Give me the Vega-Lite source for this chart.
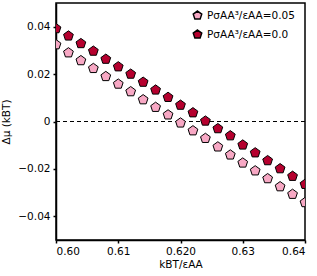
{
  "$schema": "https://vega.github.io/schema/vega-lite/v6.json",
  "autosize": "none",
  "width": 249,
  "height": 237,
  "padding": {"left": 56, "top": 3, "right": 12, "bottom": 36},
  "config": {
    "font": "DejaVu Sans",
    "view": {"stroke": "black", "strokeWidth": 1.5},
    "axis": {"labelFont": "DejaVu Sans", "titleFont": "DejaVu Sans", "labelFontSize": 10.5, "titleFontSize": 10.5, "labelColor": "black", "titleColor": "black", "titleFontWeight": "normal", "domainColor": "black", "domainWidth": 1.5, "tickColor": "black", "tickWidth": 1.5, "tickSize": 3, "grid": false}
  },
  "datasets": {
    "pts": [
      {"T": 0.600, "dmu": 0.0324, "P": "PσAA³/εAA=0.05"},
      {"T": 0.602, "dmu": 0.0290, "P": "PσAA³/εAA=0.05"},
      {"T": 0.604, "dmu": 0.0257, "P": "PσAA³/εAA=0.05"},
      {"T": 0.606, "dmu": 0.0224, "P": "PσAA³/εAA=0.05"},
      {"T": 0.608, "dmu": 0.0190, "P": "PσAA³/εAA=0.05"},
      {"T": 0.610, "dmu": 0.0158, "P": "PσAA³/εAA=0.05"},
      {"T": 0.612, "dmu": 0.0126, "P": "PσAA³/εAA=0.05"},
      {"T": 0.614, "dmu": 0.0092, "P": "PσAA³/εAA=0.05"},
      {"T": 0.616, "dmu": 0.0060, "P": "PσAA³/εAA=0.05"},
      {"T": 0.618, "dmu": 0.0028, "P": "PσAA³/εAA=0.05"},
      {"T": 0.620, "dmu": -0.0006, "P": "PσAA³/εAA=0.05"},
      {"T": 0.622, "dmu": -0.0039, "P": "PσAA³/εAA=0.05"},
      {"T": 0.624, "dmu": -0.0071, "P": "PσAA³/εAA=0.05"},
      {"T": 0.626, "dmu": -0.0107, "P": "PσAA³/εAA=0.05"},
      {"T": 0.628, "dmu": -0.0141, "P": "PσAA³/εAA=0.05"},
      {"T": 0.630, "dmu": -0.0175, "P": "PσAA³/εAA=0.05"},
      {"T": 0.632, "dmu": -0.0208, "P": "PσAA³/εAA=0.05"},
      {"T": 0.634, "dmu": -0.0241, "P": "PσAA³/εAA=0.05"},
      {"T": 0.636, "dmu": -0.0275, "P": "PσAA³/εAA=0.05"},
      {"T": 0.638, "dmu": -0.0307, "P": "PσAA³/εAA=0.05"},
      {"T": 0.640, "dmu": -0.0342, "P": "PσAA³/εAA=0.05"},
      {"T": 0.600, "dmu": 0.0392, "P": "PσAA³/εAA=0.0"},
      {"T": 0.602, "dmu": 0.0361, "P": "PσAA³/εAA=0.0"},
      {"T": 0.604, "dmu": 0.0329, "P": "PσAA³/εAA=0.0"},
      {"T": 0.606, "dmu": 0.0297, "P": "PσAA³/εAA=0.0"},
      {"T": 0.608, "dmu": 0.0263, "P": "PσAA³/εAA=0.0"},
      {"T": 0.610, "dmu": 0.0231, "P": "PσAA³/εAA=0.0"},
      {"T": 0.612, "dmu": 0.0200, "P": "PσAA³/εAA=0.0"},
      {"T": 0.614, "dmu": 0.0166, "P": "PσAA³/εAA=0.0"},
      {"T": 0.616, "dmu": 0.0133, "P": "PσAA³/εAA=0.0"},
      {"T": 0.618, "dmu": 0.0102, "P": "PσAA³/εAA=0.0"},
      {"T": 0.620, "dmu": 0.0069, "P": "PσAA³/εAA=0.0"},
      {"T": 0.622, "dmu": 0.0037, "P": "PσAA³/εAA=0.0"},
      {"T": 0.624, "dmu": 0.0002, "P": "PσAA³/εAA=0.0"},
      {"T": 0.626, "dmu": -0.0030, "P": "PσAA³/εAA=0.0"},
      {"T": 0.628, "dmu": -0.0060, "P": "PσAA³/εAA=0.0"},
      {"T": 0.630, "dmu": -0.0099, "P": "PσAA³/εAA=0.0"},
      {"T": 0.632, "dmu": -0.0132, "P": "PσAA³/εAA=0.0"},
      {"T": 0.634, "dmu": -0.0165, "P": "PσAA³/εAA=0.0"},
      {"T": 0.636, "dmu": -0.0199, "P": "PσAA³/εAA=0.0"},
      {"T": 0.638, "dmu": -0.0231, "P": "PσAA³/εAA=0.0"},
      {"T": 0.640, "dmu": -0.0265, "P": "PσAA³/εAA=0.0"}
    ],
    "zero": [{"y": 0}]
  },
  "layer": [
    {
      "data": {"name": "zero"},
      "mark": {"type": "rule", "color": "black", "strokeWidth": 1.2, "strokeDash": [4, 3]},
      "encoding": {"y": {"field": "y", "type": "quantitative", "scale": {"domain": [-0.05, 0.05]}}}
    },
    {
      "data": {"name": "pts"},
      "mark": {"type": "point", "filled": true, "clip": true, "size": 105, "stroke": "black", "strokeWidth": 1, "opacity": 1,
        "shape": "M0,-1L0.951,-0.309L0.588,0.809L-0.588,0.809L-0.951,-0.309Z"},
      "encoding": {
        "x": {"field": "T", "type": "quantitative", "scale": {"domain": [0.6, 0.64], "nice": false, "zero": false},
          "axis": {"title": "kBT/εAA", "values": [0.6, 0.61, 0.62, 0.63, 0.64], "labelExpr": "abs(datum.value-0.62)<0.0001 ? '0.620' : format(datum.value, '.2f')", "titlePadding": 3, "labelPadding": 3}},
        "y": {"field": "dmu", "type": "quantitative", "scale": {"domain": [-0.05, 0.05], "nice": false, "zero": false},
          "axis": {"title": "Δμ (kBT)", "values": [-0.04, -0.02, 0, 0.02, 0.04], "labelExpr": "datum.value == 0 ? '0' : format(datum.value, '.2f')", "titlePadding": 6, "labelPadding": 3}},
        "fill": {"field": "P", "type": "nominal", "sort": ["PσAA³/εAA=0.05", "PσAA³/εAA=0.0"],
          "scale": {"domain": ["PσAA³/εAA=0.05", "PσAA³/εAA=0.0"], "range": ["#f7a8c4", "#b5002e"]},
          "legend": {"title": null, "orient": "none", "legendX": 136, "legendY": 7, "labelFontSize": 10.5, "labelFont": "DejaVu Sans", "labelColor": "black", "symbolSize": 80, "rowPadding": 4, "labelOffset": 4,
            "symbolType": "M0,-1L0.951,-0.309L0.588,0.809L-0.588,0.809L-0.951,-0.309Z",
            "encode": {"symbols": {"update": {"stroke": {"value": "black"}, "strokeWidth": {"value": 1}}}}}}
      }
    }
  ]
}
